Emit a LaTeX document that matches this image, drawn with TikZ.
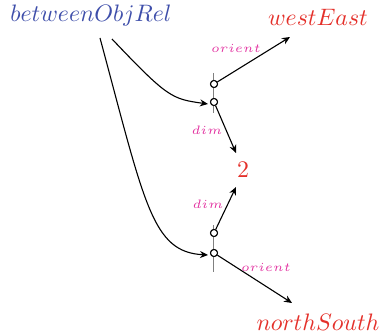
\documentclass[tikz,border=0pt]{standalone}
\usetikzlibrary{arrows.meta}
\definecolor{cblue}{RGB}{62,78,170}
\definecolor{cred}{RGB}{228,48,42}
\definecolor{cmag}{RGB}{226,50,160}
\tikzset{
  big/.style={inner sep=0pt,font=\normalsize,scale=2.38},
  lbl/.style={inner sep=0pt,text=cmag,font=\tiny,scale=2.45},
  conn/.style={draw=black,line width=1.1pt,-{Stealth[length=8pt,width=7pt]}},
  hub/.style={circle,draw=black,line width=1pt,fill=white,inner sep=0pt,minimum size=7pt},
  bar/.style={draw=gray,line width=1.2pt}
}
\begin{document}
\begin{tikzpicture}[x=1pt,y=-1pt]
\useasboundingbox (0,0) rectangle (382,334);
\node[big,text=cblue] (src) at (91,16) {$betweenObjRel$};
\node[big,text=cred] (we) at (318,17) {$westEast$};
\node[big,text=cred] (two) at (243,170) {$2$};
\node[big,text=cred] (ns) at (318,322) {$northSouth$};
% junctions
\coordinate (b1t) at (213.5,73);
\coordinate (b1b) at (213.5,113);
\coordinate (b2t) at (213.5,225);
\coordinate (b2b) at (213.5,272);
\draw[bar] (b1t) -- (b1b);
\draw[bar] (b2t) -- (b2b);
\coordinate (s1) at (112,39);
\coordinate (s2) at (100,38);
\coordinate (t1) at (290,37);
\coordinate (t2) at (236,153);
\coordinate (t3) at (236,187);
\coordinate (t4) at (292,303);
\node[hub] (c1a) at (214,84) {};
\node[hub] (c1b) at (214,102) {};
\node[hub] (c2a) at (214,233) {};
\node[hub] (c2b) at (214,253) {};
\draw[conn] (s1) .. controls (168,98) and (172,99) .. ([xshift=-2pt,yshift=-2pt]c1b.west);
\draw[conn] (s2) .. controls (145,205) and (152,252) .. ([xshift=-2pt,yshift=-2pt]c2b.west);
\draw[conn] (c1a) -- (t1);
\draw[conn] (c1b) -- (t2);
\draw[conn] (c2a) -- (t3);
\draw[conn] (c2b) -- (t4);
\node[hub] at (c1a) {};
\node[hub] at (c1b) {};
\node[hub] at (c2a) {};
\node[hub] at (c2b) {};
\node[lbl] (l1) at (236,48) {$orient$};
\node[lbl] (l2) at (207,130) {$dim$};
\node[lbl] (l3) at (208,204) {$dim$};
\node[lbl] (l4) at (266,267) {$orient$};
\end{tikzpicture}
\end{document}
